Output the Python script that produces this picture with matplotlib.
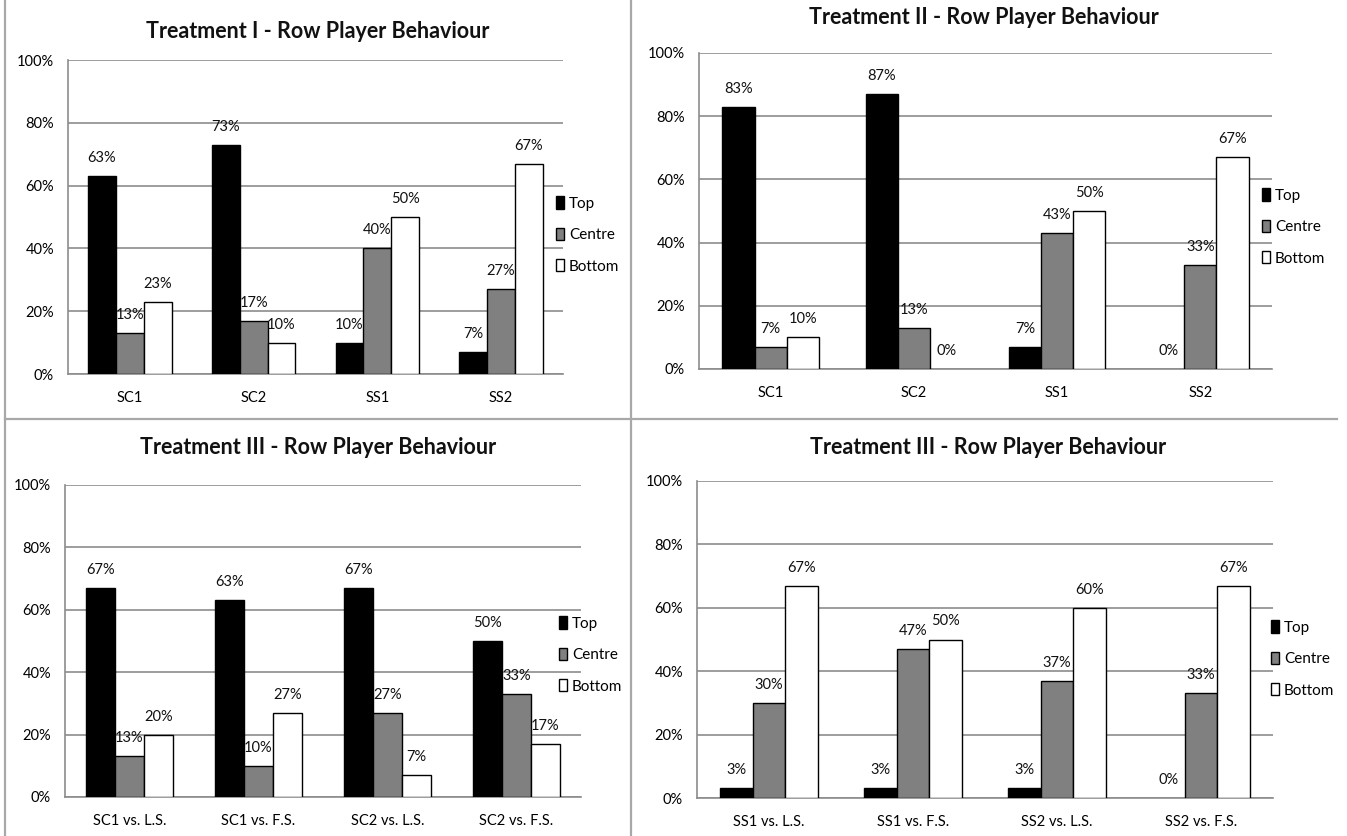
import matplotlib.pyplot as plt
from matplotlib.lines import Line2D
import numpy as np

plt.rcParams['font.family'] = ['Lato', 'DejaVu Sans']

W, H = 1347, 836

series = ['Top', 'Centre', 'Bottom']
colors = ['black', '#808080', 'white']

# Treatment I
t1_cats = ['SC1', 'SC2', 'SS1', 'SS2']
t1_top = [63, 73, 10, 7]
t1_centre = [13, 17, 40, 27]
t1_bottom = [23, 10, 50, 67]

# Treatment II
t2_cats = ['SC1', 'SC2', 'SS1', 'SS2']
t2_top = [83, 87, 7, 0]
t2_centre = [7, 13, 43, 33]
t2_bottom = [10, 0, 50, 67]

# Treatment III, SC games
t3a_cats = ['SC1 vs. L.S.', 'SC1 vs. F.S.', 'SC2 vs. L.S.', 'SC2 vs. F.S.']
t3a_top = [67, 63, 67, 50]
t3a_centre = [13, 10, 27, 33]
t3a_bottom = [20, 27, 7, 17]

# Treatment III, SS games
t3b_cats = ['SS1 vs. L.S.', 'SS1 vs. F.S.', 'SS2 vs. L.S.', 'SS2 vs. F.S.']
t3b_top = [3, 3, 3, 0]
t3b_centre = [30, 47, 37, 33]
t3b_bottom = [67, 50, 60, 67]

fig = plt.figure(figsize=(W / 100, H / 100), dpi=100)


def draw_panel(box, title, title_xy, legend_xy, cats, values):
    left, right, top, bottom = box
    ax = fig.add_axes([left / W, 1 - bottom / H, (right - left) / W, (bottom - top) / H])
    x = np.arange(len(cats))
    w = 0.225
    for i, (vals, name, c) in enumerate(zip(values, series, colors)):
        bars = ax.bar(x + (i - 1) * w, vals, w, color=c, edgecolor='black',
                      linewidth=1.0, label=name, zorder=3)
        for b, v in zip(bars, vals):
            if v == 0:
                b.set_linewidth(0)
            ax.annotate(f'{v}%', (b.get_x() + b.get_width() / 2, v),
                        xytext=(0, 13), textcoords='offset points',
                        ha='center', va='center', fontsize=10.5, color='#111111')
    ax.set_xlim(-0.5, len(cats) - 0.5)
    ax.set_ylim(0, 100)
    ax.set_xticks(x)
    ax.set_xticklabels(cats, fontsize=10.5)
    ax.set_yticks(range(0, 101, 20))
    ax.set_yticklabels([f'{t}%' for t in range(0, 101, 20)], fontsize=10.5)
    ax.tick_params(axis='x', length=0, pad=12)
    ax.tick_params(axis='y', length=0, pad=10)
    ax.yaxis.grid(True, color='#8c8c8c', linewidth=1.2)
    ax.set_axisbelow(True)
    for s in ['top', 'right']:
        ax.spines[s].set_visible(False)
    for s in ['left', 'bottom']:
        ax.spines[s].set_color('#8c8c8c')
        ax.spines[s].set_linewidth(1.2)
    fig.text(title_xy[0] / W, 1 - title_xy[1] / H, title, ha='center', va='center',
             fontsize=15.5, fontweight='bold', color='#111111')
    ax.legend(loc='center left', bbox_to_anchor=(legend_xy[0] / W, 1 - legend_xy[1] / H),
              bbox_transform=fig.transFigure, frameon=False, fontsize=11,
              handlelength=0.55, handleheight=0.85, handletextpad=0.3,
              labelspacing=1.12, borderpad=0, borderaxespad=0)
    return ax


draw_panel((68, 563, 60, 374), 'Treatment I - Row Player Behaviour', (318, 31), (556, 235),
           t1_cats, [t1_top, t1_centre, t1_bottom])
draw_panel((699, 1272, 53, 369), 'Treatment II - Row Player Behaviour', (984, 18), (1262, 227),
           t2_cats, [t2_top, t2_centre, t2_bottom])
draw_panel((65, 581, 485, 797), 'Treatment III - Row Player Behaviour', (318, 448), (559, 655),
           t3a_cats, [t3a_top, t3a_centre, t3a_bottom])
draw_panel((697, 1273, 481, 798), 'Treatment III - Row Player Behaviour', (988, 448), (1271, 659),
           t3b_cats, [t3b_top, t3b_centre, t3b_bottom])

# panel frames
frame = dict(color='#a8a8a8', linewidth=1.6, transform=fig.transFigure)
fig.add_artist(Line2D([5 / W, 5 / W], [0, 1], **frame))
fig.add_artist(Line2D([631 / W, 631 / W], [0, 1], **frame))
fig.add_artist(Line2D([5 / W, 1337 / W], [1 - 419 / H, 1 - 419 / H], **frame))

fig.savefig('out.png', dpi=100, facecolor='white')
